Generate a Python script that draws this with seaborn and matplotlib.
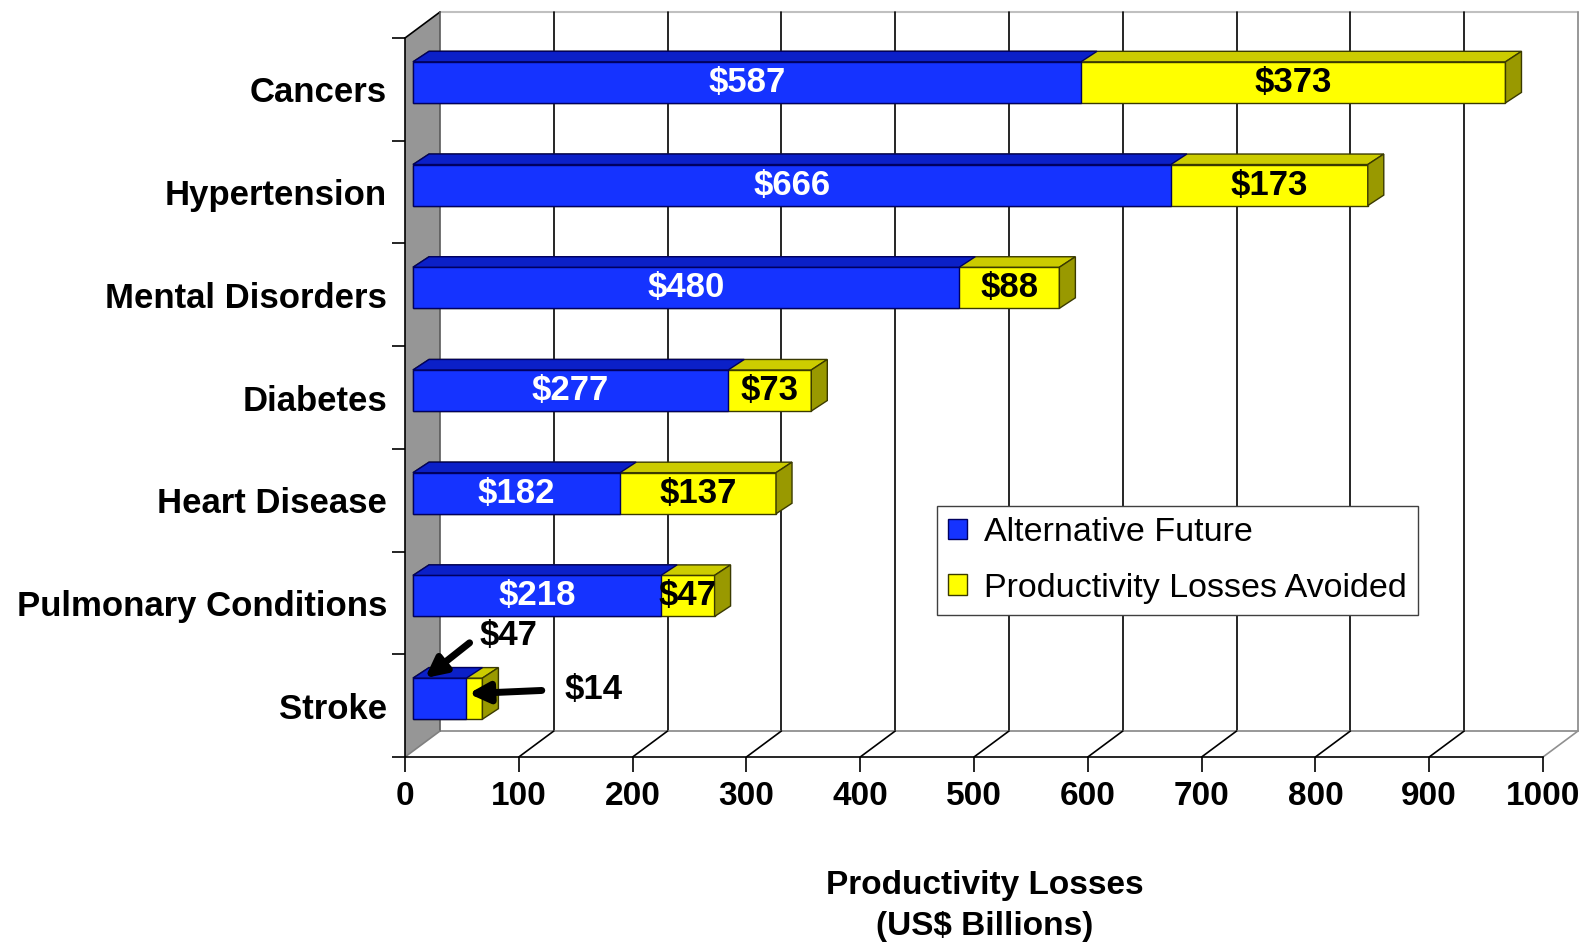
import numpy as np
import pandas as pd
import matplotlib
matplotlib.use('Agg')
import matplotlib.pyplot as plt
import seaborn as sns
from matplotlib.patches import Polygon, Patch

# ---------------- data ----------------
categories = ["Cancers", "Hypertension", "Mental Disorders", "Diabetes",
              "Heart Disease", "Pulmonary Conditions", "Stroke"]
alternative_future = [587, 666, 480, 277, 182, 218, 47]
losses_avoided = [373, 173, 88, 73, 137, 47, 14]
x_ticks = list(range(0, 1001, 100))
series_names = ["Alternative Future", "Productivity Losses Avoided"]
x_title = "Productivity Losses\n(US$ Billions)"

# ---------------- style ----------------
BLUE, BLUE_TOP, BLUE_EDGE = '#1533FF', '#0B20C8', '#000060'
YEL, YEL_TOP, YEL_SIDE, YEL_EDGE = '#FFFF00', '#CCCC00', '#999900', '#3A3A00'

sns.set_style('white')
plt.rcParams['font.family'] = ['Liberation Sans', 'DejaVu Sans']
for k in ['text.color', 'axes.labelcolor', 'xtick.color', 'ytick.color']:
    plt.rcParams[k] = 'black'

FW, FH = 1585, 947
fig = plt.figure(figsize=(FW / 100, FH / 100), dpi=100)
L, R, T, B = 405, 1543, 38, 757          # front plane in pixels
ax = fig.add_axes([L / FW, 1 - B / FH, (R - L) / FW, (B - T) / FH])
ax.set_facecolor('none')

df = pd.DataFrame({'Condition': categories,
                   'alt': alternative_future,
                   'avoided': losses_avoided})
df['total'] = df['alt'] + df['avoided']

n = len(categories)
sns.barplot(data=df, y='Condition', x='total', color=YEL, saturation=1,
            width=0.4, orient='h', edgecolor=YEL_EDGE, linewidth=1,
            ax=ax, zorder=3)
yellow_bars = list(ax.patches)
sns.barplot(data=df, y='Condition', x='alt', color=BLUE, saturation=1,
            width=0.4, orient='h', edgecolor=BLUE_EDGE, linewidth=1,
            ax=ax, zorder=3.2)
blue_bars = list(ax.patches)[len(yellow_bars):]
bars = yellow_bars + blue_bars
ax.set_xlim(0, 1000)
ax.set_ylim(n - 0.5, -0.5)

ppx = (R - L) / 1000.0
ppy = (B - T) / float(n)


def d(px, py):
    """pixel offset (right, up) -> data offset"""
    return px / ppx, -py / ppy


BX, BY = d(35, 26)      # full depth of the 3-D box
PX, PY = d(8, 7)        # bar plane inside the box
DX, DY = d(16, 10.5)    # bar thickness

ylo, yhi = -0.5, n - 0.5

# ---- back wall ----
ax.add_patch(Polygon([(BX, ylo + BY), (1000 + BX, ylo + BY),
                      (1000 + BX, yhi + BY), (BX, yhi + BY)],
                     closed=True, facecolor='white', edgecolor='none',
                     zorder=0.1, clip_on=False))
ax.plot([BX, 1000 + BX], [ylo + BY] * 2, color='#C0C0C0', lw=1.5,
        zorder=0.3, clip_on=False)
ax.plot([1000 + BX] * 2, [ylo + BY, yhi + BY], color='#909090', lw=1.3,
        zorder=0.3, clip_on=False)
for v in x_ticks[1:-1]:
    ax.plot([v + BX] * 2, [ylo + BY, yhi + BY], color='black', lw=1.2,
            zorder=0.3, clip_on=False)

# ---- floor ----
ax.plot([BX, 1000 + BX], [yhi + BY] * 2, color='#909090', lw=1.3,
        zorder=0.4, clip_on=False)
for v in x_ticks[1:]:
    ax.plot([v, v + BX], [yhi, yhi + BY],
            color='black' if v < 1000 else '#909090', lw=1.2,
            zorder=0.4, clip_on=False)

# ---- left wall ----
ax.add_patch(Polygon([(0, ylo), (BX, ylo + BY), (BX, yhi + BY), (0, yhi)],
                     closed=True, facecolor='#969696', edgecolor='none',
                     zorder=0.5, clip_on=False))
ax.plot([0, BX], [ylo, ylo + BY], color='black', lw=1.2, zorder=0.6, clip_on=False)
ax.plot([BX, BX], [ylo + BY, yhi + BY], color='#5A5A5A', lw=1.2, zorder=0.6, clip_on=False)
ax.plot([0, BX], [yhi, yhi + BY], color='#808080', lw=1.2, zorder=0.6, clip_on=False)

# ---- shift bars into the box and add 3-D faces ----
for p in bars:
    p.set_x(p.get_x() + PX)
    p.set_y(p.get_y() + PY)
    p.set_clip_on(False)

for grp, top_c, edge, z in [(yellow_bars, YEL_TOP, YEL_EDGE, 3.05),
                            (blue_bars, BLUE_TOP, BLUE_EDGE, 3.25)]:
    for p in grp:
        x0, y0, w, h = p.get_x(), p.get_y(), p.get_width(), p.get_height()
        ax.add_patch(Polygon([(x0, y0), (x0 + w, y0), (x0 + w + DX, y0 + DY),
                              (x0 + DX, y0 + DY)], closed=True,
                             facecolor=top_c, edgecolor=edge, lw=1,
                             zorder=z, clip_on=False))
for p in yellow_bars:
    x0, y0, w, h = p.get_x(), p.get_y(), p.get_width(), p.get_height()
    x1 = x0 + w
    ax.add_patch(Polygon([(x1, y0), (x1 + DX, y0 + DY), (x1 + DX, y0 + h + DY),
                          (x1, y0 + h)], closed=True, facecolor=YEL_SIDE,
                         edgecolor=YEL_EDGE, lw=1, zorder=3.05, clip_on=False))

# ---- value labels ----
VFS = 25
for i in range(n):
    bp, yp = blue_bars[i], yellow_bars[i]
    a, v = alternative_future[i], losses_avoided[i]
    cy = bp.get_y() + bp.get_height() / 2
    if a >= 100:
        ax.text(bp.get_x() + a / 2, cy, f"${a}", ha='center', va='center',
                color='white', fontsize=VFS, fontweight='bold', zorder=5)
        ax.text(bp.get_x() + a + v / 2, cy, f"${v}", ha='center', va='center',
                color='black', fontsize=VFS, fontweight='bold', zorder=5)
    else:
        arrow = dict(arrowstyle='-|>', lw=5, mutation_scale=30, color='black',
                     shrinkA=6, shrinkB=0, relpos=(0, 0.5))
        ax.annotate(f"${a}", xy=(bp.get_x() + 12 / ppx, bp.get_y()),
                    xytext=(60, 31), textcoords='offset points',
                    ha='center', va='center', fontsize=VFS, fontweight='bold',
                    color='black', arrowprops=arrow, zorder=6,
                    annotation_clip=False)
        ax.annotate(f"${v}", xy=(bp.get_x() + a + 2 / ppx, cy - 5 / ppy),
                    xytext=(90, 3), textcoords='offset points',
                    ha='center', va='center', fontsize=VFS, fontweight='bold',
                    color='black', arrowprops=dict(arrow, shrinkA=14), zorder=6,
                    annotation_clip=False)

# ---- axes, ticks ----
for s in ['top', 'right']:
    ax.spines[s].set_visible(False)
for s in ['left', 'bottom']:
    ax.spines[s].set_color('black')
    ax.spines[s].set_linewidth(1.2)
    ax.spines[s].set_zorder(0.7)

ax.set_xticks(x_ticks)
ax.set_xticklabels([str(v) for v in x_ticks], fontsize=24, fontweight='bold')
ax.tick_params(axis='x', direction='out', length=11, width=1.2,
               color='black', labelcolor='black', pad=6, bottom=True)
ax.set_yticks(range(n))
ax.set_yticklabels(categories, fontsize=25, fontweight='bold')
ax.tick_params(axis='y', which='major', length=0, pad=13, labelcolor='black')
ax.set_yticks(np.arange(-0.5, n, 1), minor=True)
ax.tick_params(axis='y', which='minor', direction='out', length=9.5,
               width=1.2, color='black', left=True)
ax.set_xlabel('')
ax.set_ylabel('')
ax.grid(False)

fig.text(985 / FW, 1 - 906 / FH, x_title, ha='center', va='center',
         fontsize=24, fontweight='bold', linespacing=1.45, color='black')

# ---- legend ----
handles = [Patch(facecolor=BLUE, edgecolor=BLUE_EDGE, lw=1),
           Patch(facecolor=YEL, edgecolor=YEL_EDGE, lw=1)]
leg = fig.legend(handles, series_names, loc='upper left',
                 bbox_to_anchor=(937 / FW, 1 - 506 / FH),
                 frameon=True, fancybox=False, fontsize=24.5,
                 handlelength=0.55, handleheight=0.55, handletextpad=0.5,
                 borderpad=0.33, labelspacing=0.72, borderaxespad=0,
                 framealpha=1, edgecolor='#404040')
leg.get_frame().set_linewidth(1)
for t in leg.get_texts():
    t.set_color('black')

fig.savefig('out.png', dpi=100)
